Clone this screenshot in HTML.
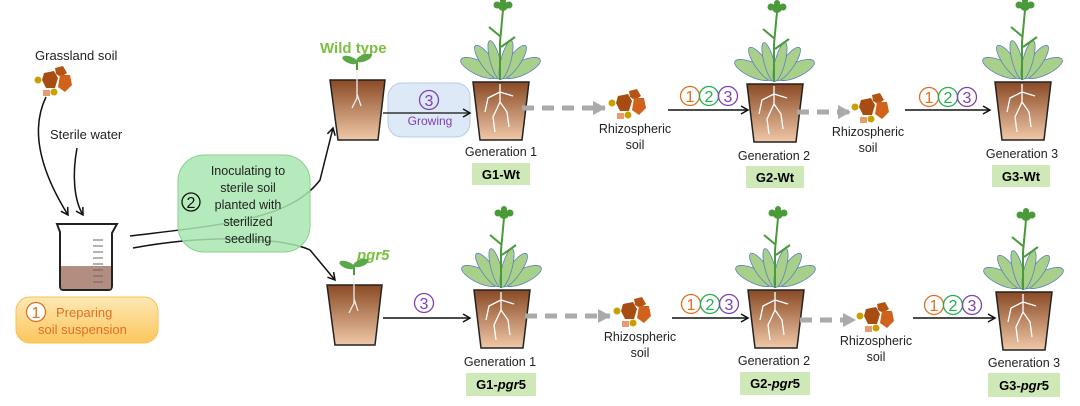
<!DOCTYPE html>
<html><head><meta charset="utf-8"><style>
body{margin:0;background:#fff}
svg{display:block;font-family:"Liberation Sans",sans-serif}
</style></head><body>
<svg width="1080" height="406" viewBox="0 0 1080 406" xmlns="http://www.w3.org/2000/svg">
<defs>
<linearGradient id="soil" x1="0" y1="0" x2="0" y2="1"><stop offset="0" stop-color="#8a4a25"/><stop offset="1" stop-color="#f0c8a8"/></linearGradient>
<linearGradient id="or" x1="0" y1="0" x2="0" y2="1"><stop offset="0" stop-color="#fde9b5"/><stop offset="1" stop-color="#fcc65c"/></linearGradient>
<marker id="ah" markerWidth="10" markerHeight="10" refX="8" refY="5" orient="auto" markerUnits="userSpaceOnUse"><path d="M1,1 L8,5 L1,9" fill="none" stroke="#111" stroke-width="1.5"/></marker>
<marker id="gh" markerWidth="14" markerHeight="14" refX="12" refY="7" orient="auto" markerUnits="userSpaceOnUse"><path d="M0,0 L13,7 L0,14Z" fill="#aaa"/></marker>
<g id="bigpot">
 <path d="M0,0 L56,0 L49,58 L7,58Z" fill="url(#soil)" stroke="#222" stroke-width="1.5"/>
 <path d="M27,2 L27,20 L20,35 L22,50 M27,20 L34,30 L36,45 M27,10 L15,16 L12,30 M27,10 L40,14" fill="none" stroke="#fff" stroke-width="1.3"/>
 <g stroke="#5a7fc0" stroke-width="0.8" fill="#a8d08a">
  <ellipse cx="6" cy="-14" rx="20" ry="7" transform="rotate(25 6 -14)"/>
  <ellipse cx="49" cy="-14" rx="20" ry="7" transform="rotate(-25 49 -14)"/>
  <ellipse cx="14" cy="-20" rx="20" ry="6" transform="rotate(55 14 -20)"/>
  <ellipse cx="41" cy="-20" rx="20" ry="6" transform="rotate(-55 41 -20)"/>
  <ellipse cx="22" cy="-22" rx="20" ry="5" transform="rotate(75 22 -22)"/>
  <ellipse cx="33" cy="-22" rx="20" ry="5" transform="rotate(-75 33 -22)"/>
 </g>
 <path d="M27,-2 L27,-40 L30,-72 M28,-45 L16,-55 M28,-35 L42,-45" fill="none" stroke="#4a9a3a" stroke-width="2"/>
 <circle cx="30" cy="-76" r="5" fill="#4a9a3a"/><circle cx="24" cy="-77" r="3.5" fill="#4a9a3a"/><circle cx="36" cy="-77" r="3.5" fill="#4a9a3a"/><circle cx="30" cy="-81" r="3" fill="#4a9a3a"/>
</g>
<g id="smallpot">
 <path d="M0,0 L55,0 L48,60 L8,60Z" fill="url(#soil)" stroke="#222" stroke-width="1.5"/>
 <path d="M27,-18 L27,18 L22,28 M27,14 L31,26" fill="none" stroke="#eee" stroke-width="1.3"/>
 <path d="M27,-18 L27,-10" stroke="#4a9a3a" stroke-width="2"/>
 <ellipse cx="20" cy="-20" rx="8" ry="3.5" fill="#5aa84a" transform="rotate(20 20 -20)"/>
 <ellipse cx="34" cy="-22" rx="8" ry="3.5" fill="#5aa84a" transform="rotate(-20 34 -22)"/>
</g>
<g id="soilclump">
 <circle cx="0" cy="0" r="3.5" fill="#c9a000"/>
 <polygon points="6,-7 16,-9 20,-2 17,8 8,8 4,0" fill="#a84d12"/>
 <polygon points="17,-12 25,-14 29,-7 23,-3 18,-6" fill="#b55515"/>
 <polygon points="22,-5 32,-5 34,5 27,12 20,7" fill="#d0621c"/>
 <rect x="5" y="10" width="7" height="6" fill="#e89a70"/>
 <circle cx="16" cy="12" r="3.5" fill="#c9a000"/>
</g>
<g id="c1"><circle r="9.5" fill="#fff" stroke="#e07020" stroke-width="1.3"/><text y="6" font-size="16" fill="#e07020" text-anchor="middle">1</text></g>
<g id="c2"><circle r="9.5" fill="#fff" stroke="#20b050" stroke-width="1.3"/><text y="6" font-size="16" fill="#20b050" text-anchor="middle">2</text></g>
<g id="c3"><circle r="9.5" fill="none" stroke="#8040b0" stroke-width="1.3"/><text y="6" font-size="16" fill="#8040b0" text-anchor="middle">3</text></g>
<g id="c123"><use href="#c1"/><use href="#c2" x="19"/><use href="#c3" x="38"/></g>
</defs>

<!-- left -->
<text x="35" y="60" font-size="13" fill="#222">Grassland soil</text>
<use href="#soilclump" x="38" y="80"/>
<text x="50" y="139" font-size="13" fill="#222">Sterile water</text>
<path d="M46,97 C30,130 40,170 68,215" fill="none" stroke="#111" stroke-width="1.5" marker-end="url(#ah)"/>
<path d="M77,148 C72,175 74,200 83,215" fill="none" stroke="#111" stroke-width="1.5" marker-end="url(#ah)"/>
<path d="M57,224 L117,224 L112,233 L112,286 Q112,290 108,290 L64,290 Q60,290 60,286 L60,232Z" fill="#fff" stroke="#222" stroke-width="2"/>
<rect x="61" y="266" width="50" height="23" fill="#a07060" opacity="0.8"/>
<g stroke="#666" stroke-width="1"><path d="M93,240h10M93,246h10M93,252h10M93,258h10M93,264h10M93,270h10M93,276h10M93,282h10"/></g>
<rect x="16" y="297" width="142" height="46" rx="14" fill="url(#or)" stroke="#f8c050"/>
<use href="#c1" x="36" y="312"/>
<text x="56" y="317" font-size="13" fill="#e07020">Preparing</text>
<text x="38" y="334" font-size="13" fill="#e07020">soil suspension</text>

<path d="M130,236 C220,225 290,220 320,180 L333,128" fill="none" stroke="#111" stroke-width="1.5" marker-end="url(#ah)"/>
<path d="M133,248 C220,232 290,240 310,250 L335,280" fill="none" stroke="#111" stroke-width="1.5" marker-end="url(#ah)"/>
<rect x="178" y="155" width="132" height="97" rx="26" fill="#a8e8b0" fill-opacity="0.85" stroke="#8ad08a"/>
<g font-size="12.5" fill="#222" text-anchor="middle">
<text x="248" y="175">Inoculating to</text><text x="248" y="192">sterile soil</text><text x="248" y="209">planted with</text><text x="248" y="226">sterilized</text><text x="248" y="243">seedling</text></g>
<circle cx="191" cy="202" r="9" fill="none" stroke="#111" stroke-width="1.3"/><text x="191" y="208" font-size="16" text-anchor="middle" fill="#111">2</text>

<!-- top row -->
<text x="320" y="53" font-size="15" font-weight="bold" fill="#7cc040">Wild type</text>
<use href="#smallpot" x="330" y="80"/>
<rect x="388" y="83" width="82" height="54" rx="14" fill="#dde9f7" stroke="#b8cce8"/>
<path d="M383,113 L470,113" stroke="#333" stroke-width="1.5" marker-end="url(#ah)"/>
<use href="#c3" x="429" y="100"/>
<text x="430" y="125" font-size="12" fill="#8040b0" text-anchor="middle">Growing</text>
<use href="#bigpot" x="473" y="82"/>
<text x="501" y="156" font-size="12.5" fill="#222" text-anchor="middle">Generation 1</text>
<rect x="472" y="163" width="58" height="22" fill="#cfe8b8"/><text x="501" y="179" font-size="13" font-weight="bold" text-anchor="middle">G1-Wt</text>
<path d="M522,108 L605,108" stroke="#aaa" stroke-width="5" stroke-dasharray="12,8" marker-end="url(#gh)"/>
<use href="#soilclump" x="612" y="103"/>
<text x="635" y="133" font-size="12.5" fill="#222" text-anchor="middle">Rhizospheric</text><text x="635" y="149" font-size="12.5" fill="#222" text-anchor="middle">soil</text>
<path d="M668,110 L748,110" stroke="#111" stroke-width="1.5" marker-end="url(#ah)"/>
<use href="#c123" x="690" y="96"/>
<use href="#bigpot" x="747" y="84"/>
<text x="774" y="160" font-size="12.5" fill="#222" text-anchor="middle">Generation 2</text>
<rect x="746" y="166" width="58" height="22" fill="#cfe8b8"/><text x="775" y="182" font-size="13" font-weight="bold" text-anchor="middle">G2-Wt</text>
<path d="M797,112 L850,112" stroke="#aaa" stroke-width="5" stroke-dasharray="12,8" marker-end="url(#gh)"/>
<use href="#soilclump" x="855" y="107"/>
<text x="868" y="136" font-size="12.5" fill="#222" text-anchor="middle">Rhizospheric</text><text x="868" y="152" font-size="12.5" fill="#222" text-anchor="middle">soil</text>
<path d="M905,110 L990,110" stroke="#111" stroke-width="1.5" marker-end="url(#ah)"/>
<use href="#c123" x="929" y="97"/>
<use href="#bigpot" x="995" y="82"/>
<text x="1022" y="158" font-size="12.5" fill="#222" text-anchor="middle">Generation 3</text>
<rect x="992" y="165" width="58" height="22" fill="#cfe8b8"/><text x="1021" y="181" font-size="13" font-weight="bold" text-anchor="middle">G3-Wt</text>

<!-- bottom row -->
<text x="357" y="260" font-size="15" font-weight="bold" font-style="italic" fill="#7cc040">pgr5</text>
<use href="#smallpot" x="327" y="285"/>
<use href="#c3" x="424" y="303"/>
<path d="M383,318 L470,318" stroke="#111" stroke-width="1.5" marker-end="url(#ah)"/>
<use href="#bigpot" x="474" y="290"/>
<text x="500" y="366" font-size="12.5" fill="#222" text-anchor="middle">Generation 1</text>
<rect x="466" y="373" width="70" height="23" fill="#cfe8b8"/><text x="501" y="389" font-size="13" font-weight="bold" text-anchor="middle">G1-<tspan font-style="italic">pgr</tspan>5</text>
<path d="M525,316 L610,316" stroke="#aaa" stroke-width="5" stroke-dasharray="12,8" marker-end="url(#gh)"/>
<use href="#soilclump" x="617" y="311"/>
<text x="640" y="341" font-size="12.5" fill="#222" text-anchor="middle">Rhizospheric</text><text x="640" y="357" font-size="12.5" fill="#222" text-anchor="middle">soil</text>
<path d="M672,318 L748,318" stroke="#111" stroke-width="1.5" marker-end="url(#ah)"/>
<use href="#c123" x="691" y="304"/>
<use href="#bigpot" x="748" y="290"/>
<text x="774" y="365" font-size="12.5" fill="#222" text-anchor="middle">Generation 2</text>
<rect x="740" y="372" width="70" height="23" fill="#cfe8b8"/><text x="775" y="388" font-size="13" font-weight="bold" text-anchor="middle">G2-<tspan font-style="italic">pgr</tspan>5</text>
<path d="M800,320 L855,320" stroke="#aaa" stroke-width="5" stroke-dasharray="12,8" marker-end="url(#gh)"/>
<use href="#soilclump" x="860" y="316"/>
<text x="876" y="345" font-size="12.5" fill="#222" text-anchor="middle">Rhizospheric</text><text x="876" y="361" font-size="12.5" fill="#222" text-anchor="middle">soil</text>
<path d="M913,318 L995,318" stroke="#111" stroke-width="1.5" marker-end="url(#ah)"/>
<use href="#c123" x="934" y="305"/>
<use href="#bigpot" x="996" y="292"/>
<text x="1024" y="367" font-size="12.5" fill="#222" text-anchor="middle">Generation 3</text>
<rect x="988" y="373" width="72" height="24" fill="#cfe8b8"/><text x="1024" y="390" font-size="13" font-weight="bold" text-anchor="middle">G3-<tspan font-style="italic">pgr</tspan>5</text>
</svg>
</body></html>
